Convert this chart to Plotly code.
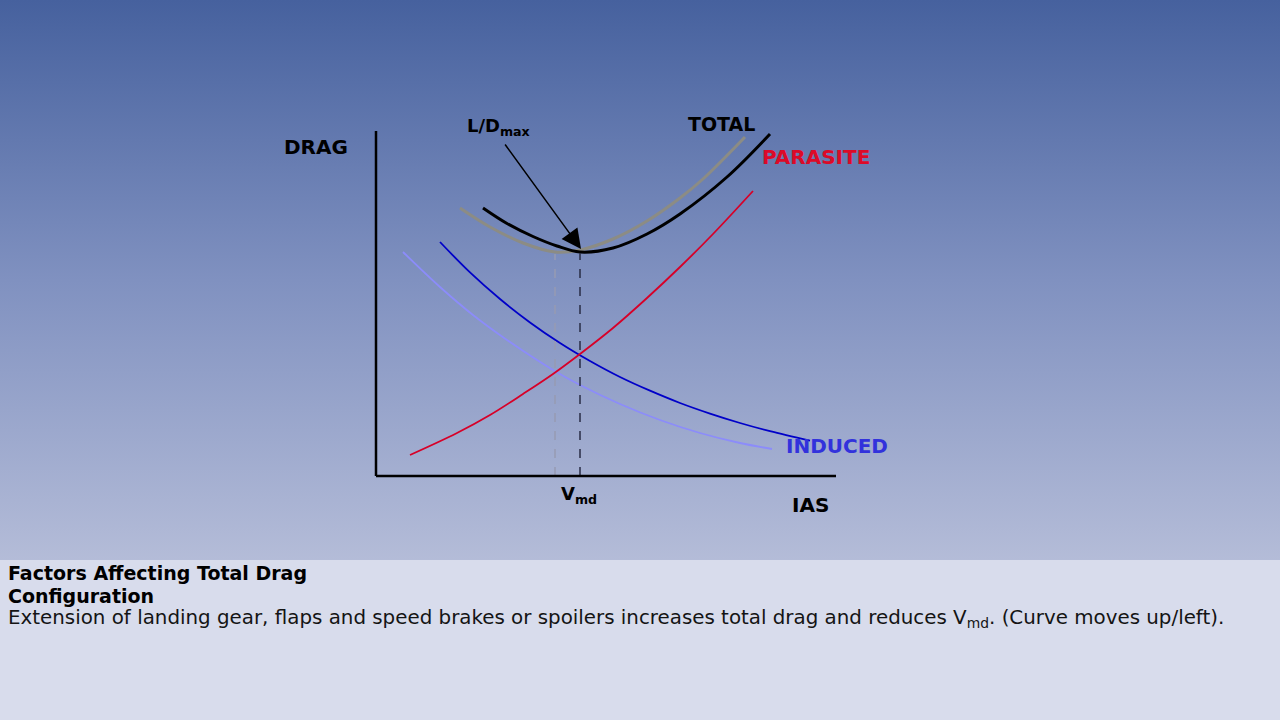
import plotly.graph_objects as go

# ---- data (IAS / DRAG in arbitrary chart units) ----
parasite_ias = [34, 81, 114, 147, 177, 204, 237, 271, 304, 337, 377]
parasite_drag = [21, 43, 61, 82, 102, 122, 148, 178, 209, 242, 285]

induced_ias = [64, 94, 124, 154, 184, 214, 244, 274, 304, 334, 364, 394, 434]
induced_drag = [234, 203.6, 177, 153.6, 133, 115, 99, 85.3, 73, 62.4, 53, 44.8, 35.3]

induced2_ias = [27, 64, 97, 131, 177, 204, 244, 284, 324, 364, 396]
induced2_drag = [224, 189, 161, 136, 106, 91, 72, 56, 43, 33, 27]

total_ias = [107, 131, 157, 181, 204, 237, 271, 304, 351, 394]
total_drag = [268, 252.5, 239.5, 230, 224, 228, 242, 262, 299, 342]

total2_ias = [84, 114, 147, 179, 204, 237, 271, 304, 327, 369]
total2_drag = [268, 249, 233, 224, 226, 237, 255, 278, 297, 339]

vmd_ias = 204
vmd_drag = 223
vmd2_ias = 179
vmd2_drag = 224

axis_x_max = 460
axis_y_max = 345

X_RANGE = [-376, 904]
Y_RANGE = [-244, 476]
PANEL_TOP = -84

FONT = "DejaVu Sans"

fig = go.Figure()

# background gradient (upper area)
fig.add_trace(go.Scatter(
    x=[X_RANGE[0], X_RANGE[1], X_RANGE[1], X_RANGE[0], X_RANGE[0]],
    y=[PANEL_TOP, PANEL_TOP, Y_RANGE[1], Y_RANGE[1], PANEL_TOP],
    mode="lines", line=dict(width=0), fill="toself",
    fillgradient=dict(type="vertical", start=PANEL_TOP, stop=Y_RANGE[1],
                      colorscale=[[0, "rgb(180,188,216)"],
                                  [0.5, "rgb(128,145,192)"],
                                  [1, "rgb(70,97,158)"]]),
    hoverinfo="skip", showlegend=False))

# curves
fig.add_trace(go.Scatter(x=total2_ias, y=total2_drag, mode="lines", line_shape="spline",
                         line=dict(color="rgb(140,140,132)", width=3), hoverinfo="skip", showlegend=False))
fig.add_trace(go.Scatter(x=induced2_ias, y=induced2_drag, mode="lines", line_shape="spline",
                         line=dict(color="rgb(140,140,250)", width=1.8), hoverinfo="skip", showlegend=False))
fig.add_trace(go.Scatter(x=induced_ias, y=induced_drag, mode="lines", line_shape="spline",
                         line=dict(color="rgb(0,0,200)", width=1.8), hoverinfo="skip", showlegend=False))
fig.add_trace(go.Scatter(x=parasite_ias, y=parasite_drag, mode="lines", line_shape="spline",
                         line=dict(color="rgb(215,0,40)", width=1.8), hoverinfo="skip", showlegend=False))
fig.add_trace(go.Scatter(x=total_ias, y=total_drag, mode="lines", line_shape="spline",
                         line=dict(color="black", width=3), hoverinfo="skip", showlegend=False))

shapes = [
    # dashed Vmd lines
    dict(type="line", x0=vmd2_ias, x1=vmd2_ias, y0=0, y1=vmd2_drag - 2,
         line=dict(color="rgb(150,155,178)", width=1.5, dash="dash")),
    dict(type="line", x0=vmd_ias, x1=vmd_ias, y0=0, y1=vmd_drag,
         line=dict(color="rgb(40,45,70)", width=1.5, dash="dash")),
    # axes
    dict(type="line", x0=0, x1=0, y0=0, y1=axis_y_max, line=dict(color="black", width=2.5)),
    dict(type="line", x0=0, x1=axis_x_max, y0=0, y1=0, line=dict(color="black", width=2.5)),
]

ann = [
    dict(x=vmd_ias + 1, y=vmd_drag + 4, ax=128, ay=333, axref="x", ayref="y", xref="x", yref="y",
         text="", showarrow=True, arrowhead=2, arrowsize=2.6, arrowwidth=1.5, arrowcolor="black"),
    dict(x=-60, y=329, text="<b>DRAG</b>", font=dict(size=20, color="black", family=FONT), showarrow=False),
    dict(x=122, y=349, text="<b>L/D<sub>max</sub></b>", font=dict(size=18, color="black", family=FONT), showarrow=False),
    dict(x=345, y=352, text="<b>TOTAL</b>", font=dict(size=19, color="black", family=FONT), showarrow=False),
    dict(x=440, y=319, text="<b>PARASITE</b>", font=dict(size=20, color="rgb(220,10,40)", family=FONT), showarrow=False),
    dict(x=461, y=30, text="<b>INDUCED</b>", font=dict(size=20, color="rgb(50,50,220)", family=FONT), showarrow=False),
    dict(x=203, y=-19, text="<b>V<sub>md</sub></b>", font=dict(size=18, color="black", family=FONT), showarrow=False),
    dict(x=434, y=-29, text="<b>IAS</b>", font=dict(size=20, color="black", family=FONT), showarrow=False),
    dict(x=6 / 1280, y=1 - 573 / 720, xref="paper", yref="paper", xanchor="left", yanchor="middle",
         text="<b>Factors Affecting Total Drag</b>", font=dict(size=19, color="black", family=FONT), showarrow=False),
    dict(x=6 / 1280, y=1 - 596 / 720, xref="paper", yref="paper", xanchor="left", yanchor="middle",
         text="<b>Configuration</b>", font=dict(size=19, color="black", family=FONT), showarrow=False),
    dict(x=6 / 1280, y=1 - 618 / 720, xref="paper", yref="paper", xanchor="left", yanchor="middle",
         text="Extension of landing gear, flaps and speed brakes or spoilers increases total drag and reduces V<sub>md</sub>. (Curve moves up/left).",
         font=dict(size=19.85, color="rgb(20,20,20)", family=FONT), showarrow=False),
]

fig.update_layout(
    width=1280, height=720,
    margin=dict(l=0, r=0, t=0, b=0),
    paper_bgcolor="rgb(216,220,236)", plot_bgcolor="rgb(216,220,236)",
    xaxis=dict(range=X_RANGE, visible=False, fixedrange=True),
    yaxis=dict(range=Y_RANGE, visible=False, fixedrange=True),
    shapes=shapes, annotations=ann, showlegend=False,
)

fig.write_html("out.html", config={"displayModeBar": False},
               post_script="document.body.style.margin='0';document.body.style.overflow='hidden';")
